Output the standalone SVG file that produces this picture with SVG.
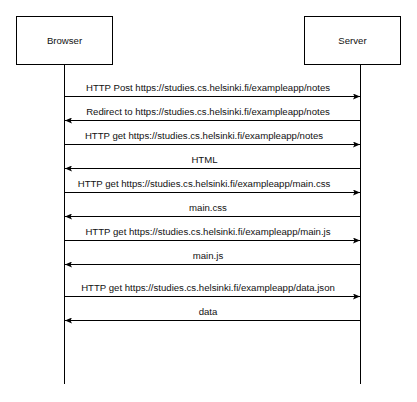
<svg xmlns="http://www.w3.org/2000/svg" width="417" height="402" viewBox="0 0 417 402">
<style>
.box{fill:#fff;stroke:#000;stroke-width:1}
.life{stroke:#000;stroke-width:1;fill:none}
.msg{stroke:#000;stroke-width:1;fill:none}
text{font-family:"Liberation Sans",Arial,sans-serif;font-size:9.6px;fill:#111}
.lbl{text-anchor:middle}
</style>
<defs>
<marker id="ah" markerWidth="8" markerHeight="6" refX="7" refY="3" orient="auto" markerUnits="userSpaceOnUse">
<path d="M0,0 L7,3 L0,6 L1.5,3 Z" fill="#000"/>
</marker>
</defs>
<rect width="417" height="402" fill="#fff"/>
<g id="browser">
<rect class="box" x="16.5" y="16.5" width="96" height="48"/>
<text class="lbl" x="64.5" y="43.5">Browser</text>
<line class="life" x1="64.5" y1="64.5" x2="64.5" y2="384"/>
</g>
<g id="server">
<rect class="box" x="304.5" y="16.5" width="96" height="48"/>
<text class="lbl" x="352.5" y="43.5">Server</text>
<line class="life" x1="360.5" y1="64.5" x2="360.5" y2="384"/>
</g>
<g id="connectors">
<line class="msg" x1="64.5" y1="96.5" x2="360" y2="96.5" marker-end="url(#ah)"/>
<line class="msg" x1="360.5" y1="120.5" x2="65" y2="120.5" marker-end="url(#ah)"/>
<line class="msg" x1="64.5" y1="144.5" x2="360" y2="144.5" marker-end="url(#ah)"/>
<line class="msg" x1="360.5" y1="168.5" x2="65" y2="168.5" marker-end="url(#ah)"/>
<line class="msg" x1="64.5" y1="192.5" x2="360" y2="192.5" marker-end="url(#ah)"/>
<line class="msg" x1="360.5" y1="216.5" x2="65" y2="216.5" marker-end="url(#ah)"/>
<line class="msg" x1="64.5" y1="240.5" x2="360" y2="240.5" marker-end="url(#ah)"/>
<line class="msg" x1="360.5" y1="264.5" x2="65" y2="264.5" marker-end="url(#ah)"/>
<line class="msg" x1="64.5" y1="296.5" x2="360" y2="296.5" marker-end="url(#ah)"/>
<line class="msg" x1="360.5" y1="320.5" x2="65" y2="320.5" marker-end="url(#ah)"/>
</g>
<g id="labels">
<text class="lbl" x="208" y="91">HTTP Post https://studies.cs.helsinki.fi/exampleapp/notes</text>
<text class="lbl" x="208" y="115">Redirect to https://studies.cs.helsinki.fi/exampleapp/notes</text>
<text class="lbl" x="204" y="139">HTTP get https://studies.cs.helsinki.fi/exampleapp/notes</text>
<text class="lbl" x="204.5" y="163">HTML</text>
<text class="lbl" x="204" y="187">HTTP get https://studies.cs.helsinki.fi/exampleapp/main.css</text>
<text class="lbl" x="208" y="211">main.css</text>
<text class="lbl" x="208" y="235">HTTP get https://studies.cs.helsinki.fi/exampleapp/main.js</text>
<text class="lbl" x="208" y="259">main.js</text>
<text class="lbl" x="208" y="291">HTTP get https://studies.cs.helsinki.fi/exampleapp/data.json</text>
<text class="lbl" x="208" y="315">data</text>
</g>
</svg>
